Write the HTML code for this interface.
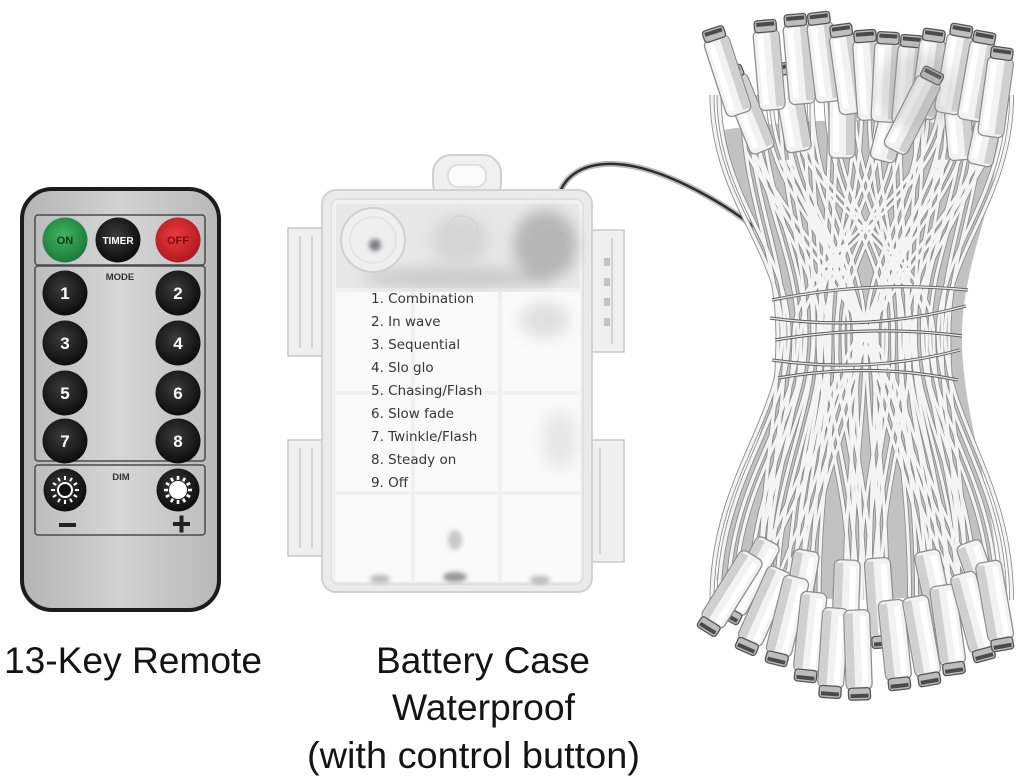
<!DOCTYPE html>
<html><head><meta charset="utf-8"><style>
html,body{margin:0;padding:0;background:#fff;}
svg{display:block;}
</style></head><body>
<svg width="1024" height="782" viewBox="0 0 1024 782" xmlns="http://www.w3.org/2000/svg">
<defs>
<linearGradient id="rg" x1="0" y1="0" x2="1" y2="0"><stop offset="0" stop-color="#b4b4b4"/><stop offset="0.5" stop-color="#d2d2d2"/><stop offset="1" stop-color="#b8b8b8"/></linearGradient>
<linearGradient id="pg" x1="0" y1="0" x2="1" y2="0"><stop offset="0" stop-color="#bdbdbd"/><stop offset="0.5" stop-color="#d6d6d6"/><stop offset="1" stop-color="#c0c0c0"/></linearGradient>
<radialGradient id="bk" cx="0.45" cy="0.4" r="0.6"><stop offset="0" stop-color="#3c3c3c"/><stop offset="1" stop-color="#0c0c0c"/></radialGradient>
<radialGradient id="gr" cx="0.45" cy="0.4" r="0.6"><stop offset="0" stop-color="#3fb562"/><stop offset="1" stop-color="#1c7a3a"/></radialGradient>
<radialGradient id="rd" cx="0.45" cy="0.4" r="0.6"><stop offset="0" stop-color="#ec3a3e"/><stop offset="1" stop-color="#b01a1f"/></radialGradient>
<filter id="bl" x="-50%" y="-50%" width="200%" height="200%"><feGaussianBlur stdDeviation="7"/></filter>
<filter id="bl2" x="-50%" y="-50%" width="200%" height="200%"><feGaussianBlur stdDeviation="2.5"/></filter>
<path id="rays" d="M0,-10V-14M5,-8.7L7,-12.1M8.7,-5L12.1,-7M10,0H14M8.7,5L12.1,7M5,8.7L7,12.1M0,10V14M-5,8.7L-7,12.1M-8.7,5L-12.1,7M-10,0H-14M-8.7,-5L-12.1,-7M-5,-8.7L-7,-12.1"/>
<g id="led">
<rect x="-13" y="-38" width="26" height="80" rx="6" fill="#f2f2f2" stroke="#8e8e8e" stroke-width="1.3"/>
<rect x="4" y="-35" width="8" height="74" fill="#d0d0d0"/>
<rect x="-9" y="-34" width="6" height="70" fill="#fff"/>
<rect x="-11" y="-48" width="22" height="12" rx="3" fill="#bdbdbd" stroke="#555" stroke-width="1.3"/>
<rect x="-9" y="-46" width="18" height="4" fill="#4a4a4a"/>
</g>
<path id="w" d="M712,95C712,200 782,250 782,335C782,420 712,480 712,600M742,95C742,200 778,250 778,335C778,420 760,480 760,600M755,95C755,200 798,250 798,335C798,420 728,480 728,600M780,95C780,200 806,250 806,335C806,420 750,480 750,600M805,95C805,200 814,250 814,335C814,420 770,480 770,600M830,95C830,200 822,250 822,335C822,420 795,480 795,600M855,95C855,200 830,250 830,335C830,420 812,480 812,600M878,95C878,200 818,250 818,335C818,420 850,480 850,600M900,95C900,200 836,250 836,335C836,420 865,480 865,600M922,95C922,200 866,250 866,335C866,420 880,480 880,600M944,95C944,200 876,250 876,335C876,420 870,480 870,600M965,95C965,200 870,250 870,335C870,420 925,480 925,600M985,95C985,200 906,250 906,335C906,420 940,480 940,600M940,95C940,200 794,250 794,335C794,420 760,480 760,600M985,150C930,250 860,300 820,420C800,480 780,520 745,590M780,160C830,250 860,320 900,440C915,500 935,540 960,600"/>
<g id="allw">
<use href="#w"/>
<use href="#w" transform="translate(7,0)"/>
<use href="#w" transform="matrix(-0.95,0,0,1,1688,0)"/>
<use href="#w" transform="matrix(-0.95,0,0,1,1681,0)"/>
</g>
<path id="ties" d="M772,300Q870,280 968,290M770,318Q870,332 966,306M775,340Q870,324 962,336M772,360Q870,374 960,350M778,378Q870,362 958,380"/>
<path id="cable" d="M560,192C568,172 588,163 615,164C660,166 720,200 758,230"/>
</defs>

<!-- REMOTE -->
<rect x="22" y="189" width="197" height="421" rx="30" fill="url(#rg)" stroke="#1c1c1c" stroke-width="4"/>
<rect x="35" y="215" width="170" height="50" rx="3" fill="url(#pg)" stroke="#4a4a4a" stroke-width="1.5"/>
<rect x="35" y="266" width="170" height="195" rx="3" fill="url(#pg)" stroke="#4a4a4a" stroke-width="1.5"/>
<rect x="35" y="465" width="170" height="70" rx="3" fill="url(#pg)" stroke="#4a4a4a" stroke-width="1.5"/>
<circle cx="65" cy="240" r="22.5" fill="url(#gr)"/>
<circle cx="118" cy="240" r="22.5" fill="url(#bk)"/>
<circle cx="178" cy="240" r="22.5" fill="url(#rd)"/>
<g font-family="Liberation Sans, sans-serif" font-weight="bold" text-anchor="middle">
<text x="65" y="244" font-size="11" fill="#0c3a1a">ON</text>
<text x="118" y="244" font-size="10" fill="#fff">TIMER</text>
<text x="178" y="244" font-size="11" fill="#7a0c10">OFF</text>
<text x="120" y="280" font-size="9.5" fill="#333">MODE</text>
<text x="121" y="480" font-size="9.5" fill="#333">DIM</text>
</g>
<g fill="url(#bk)">
<circle cx="65" cy="293" r="22.5"/><circle cx="178" cy="293" r="22.5"/>
<circle cx="65" cy="343" r="22.5"/><circle cx="178" cy="343" r="22.5"/>
<circle cx="65" cy="393" r="22.5"/><circle cx="178" cy="393" r="22.5"/>
<circle cx="65" cy="441" r="22.5"/><circle cx="178" cy="441" r="22.5"/>
<circle cx="65" cy="490" r="21.5"/><circle cx="178" cy="490" r="21.5"/>
</g>
<g font-family="Liberation Sans, sans-serif" font-weight="bold" font-size="17" fill="#fff" text-anchor="middle">
<text x="65" y="299">1</text><text x="178" y="299">2</text>
<text x="65" y="349">3</text><text x="178" y="349">4</text>
<text x="65" y="399">5</text><text x="178" y="399">6</text>
<text x="65" y="447">7</text><text x="178" y="447">8</text>
</g>
<g transform="translate(65,490)"><circle r="7" fill="#111" stroke="#fff" stroke-width="2"/><use href="#rays" stroke="#fff" stroke-width="2"/></g>
<g transform="translate(178,490)"><circle r="9" fill="#fff"/><use href="#rays" stroke="#fff" stroke-width="2.6"/></g>
<rect x="59" y="523" width="17" height="4" fill="#222"/>
<rect x="173" y="522" width="17" height="4" fill="#222"/>
<rect x="179.5" y="515.5" width="4" height="17" fill="#222"/>

<!-- BATTERY CASE -->
<use href="#cable" fill="none" stroke="#bbb" stroke-width="6"/>
<use href="#cable" fill="none" stroke="#2e2e2e" stroke-width="2.5"/>
<path d="M288,228h38v128h-38zM288,440h38v116h-38zM586,230h38v122h-38zM586,440h38v122h-38z" fill="#efefef" stroke="#c9c9c9" stroke-width="1.5"/>
<path d="M300,236V348M312,236V348M300,448V548M312,448V548M612,238V344M600,448V554" stroke="#d2d2d2" stroke-width="2"/>
<path d="M604,258h6v8h-6zM604,278h6v8h-6zM604,298h6v8h-6zM604,318h6v8h-6z" fill="#c4c4c4"/>
<rect x="433" y="155" width="68" height="46" rx="18" fill="#f0f0f0" stroke="#cfcfcf" stroke-width="2"/>
<rect x="448" y="165" width="38" height="22" rx="10" fill="#fbfbfb" stroke="#d8d8d8" stroke-width="1.5"/>
<rect x="322" y="190" width="270" height="402" rx="14" fill="#ebebeb" stroke="#d2d2d2" stroke-width="2"/>
<rect x="331" y="199" width="252" height="385" rx="8" fill="#f1f1f1" stroke="#dedede" stroke-width="1.5"/>
<rect x="336" y="204" width="243" height="84" fill="#e8e8e8"/>
<ellipse cx="455" cy="278" rx="95" ry="11" fill="#a8a8a8" opacity="0.45" filter="url(#bl)"/>
<ellipse cx="545" cy="245" rx="32" ry="35" fill="#8e8e8e" opacity="0.55" filter="url(#bl)"/>
<ellipse cx="460" cy="240" rx="30" ry="25" fill="#c4c4c4" opacity="0.5" filter="url(#bl)"/>
<circle cx="373" cy="240" r="32" fill="#efefef" stroke="#d0d0d0" stroke-width="2"/>
<circle cx="373" cy="240" r="23" fill="none" stroke="#e2e2e2" stroke-width="1.5"/>
<circle cx="375" cy="245" r="6" fill="#7c7c84" filter="url(#bl2)"/>
<circle cx="462" cy="232" r="16" fill="none" stroke="#d4d4d4" stroke-width="1.5"/>
<path d="M336,292h75v99h-75zM415,292h83v99h-83zM502,292h78v99h-78zM336,395h75v96h-75zM415,395h83v96h-83zM502,395h78v96h-78zM336,495h75v86h-75zM415,495h83v86h-83zM502,495h78v86h-78z" fill="#fafafa"/>
<ellipse cx="545" cy="320" rx="25" ry="18" fill="#cfcfcf" opacity="0.6" filter="url(#bl)"/>
<ellipse cx="560" cy="440" rx="18" ry="30" fill="#dcdcdc" opacity="0.6" filter="url(#bl)"/>
<ellipse cx="455" cy="577" rx="12" ry="5" fill="#555" opacity="0.6" filter="url(#bl2)"/>
<ellipse cx="380" cy="579" rx="10" ry="4" fill="#777" opacity="0.5" filter="url(#bl2)"/>
<ellipse cx="540" cy="580" rx="10" ry="4" fill="#777" opacity="0.5" filter="url(#bl2)"/>
<ellipse cx="455" cy="540" rx="7" ry="10" fill="#999" opacity="0.5" filter="url(#bl2)"/>
<g font-family="DejaVu Sans, Liberation Sans, sans-serif" font-size="13.5" fill="#363636">
<text x="371" y="303">1. Combination</text>
<text x="371" y="326">2. In wave</text>
<text x="371" y="349">3. Sequential</text>
<text x="371" y="372">4. Slo glo</text>
<text x="371" y="395">5. Chasing/Flash</text>
<text x="371" y="418">6. Slow fade</text>
<text x="371" y="441">7. Twinkle/Flash</text>
<text x="371" y="464">8. Steady on</text>
<text x="371" y="487">9. Off</text>
</g>

<!-- LED BUNDLE -->
<path d="M722,130Q860,110 1000,130C995,210 965,255 962,330C960,410 992,480 998,580Q860,620 716,580C738,480 778,410 778,330C778,255 735,210 722,130Z" fill="#c2c2c2"/>
<use href="#allw" fill="none" stroke="#8c8c8c" stroke-width="5"/>
<use href="#allw" fill="none" stroke="#f4f4f4" stroke-width="3.2"/>
<use href="#led" transform="translate(748,112) rotate(-22)"/>
<use href="#led" transform="translate(792,110) rotate(-10)"/>
<use href="#led" transform="translate(842,116)"/>
<use href="#led" transform="translate(892,120) rotate(14)"/>
<use href="#led" transform="translate(958,118) rotate(-5)"/>
<use href="#led" transform="translate(988,124) rotate(12)"/>
<use href="#led" transform="translate(727,74) rotate(-18)"/>
<use href="#led" transform="translate(769,68) rotate(-5)"/>
<use href="#led" transform="translate(799,62) rotate(-5)"/>
<use href="#led" transform="translate(824,60) rotate(-7)"/>
<use href="#led" transform="translate(847,72) rotate(-8)"/>
<use href="#led" transform="translate(868,78) rotate(-4)"/>
<use href="#led" transform="translate(886,80) rotate(3)"/>
<use href="#led" transform="translate(908,83) rotate(5)"/>
<use href="#led" transform="translate(928,77) rotate(8)"/>
<use href="#led" transform="translate(954,72) rotate(10)"/>
<use href="#led" transform="translate(977,79) rotate(10)"/>
<use href="#led" transform="translate(996,95) rotate(8)"/>
<use href="#led" transform="translate(913,113) rotate(27)"/>
<ellipse cx="915" cy="90" rx="40" ry="40" fill="#9a9a9a" opacity="0.25" filter="url(#bl)"/>
<use href="#ties" fill="none" stroke="#5e5e5e" stroke-width="3.2"/>
<use href="#ties" fill="none" stroke="#e9e9e9" stroke-width="1.3"/>
<use href="#led" transform="translate(750,578) rotate(208)"/>
<use href="#led" transform="translate(800,592) rotate(190)"/>
<use href="#led" transform="translate(846,602) rotate(182)"/>
<use href="#led" transform="translate(880,600) rotate(176)"/>
<use href="#led" transform="translate(935,592) rotate(168)"/>
<use href="#led" transform="translate(982,582) rotate(160)"/>
<use href="#led" transform="translate(731,591) rotate(212)"/>
<use href="#led" transform="translate(764,608) rotate(204)"/>
<use href="#led" transform="translate(787,618) rotate(194)"/>
<use href="#led" transform="translate(810,634) rotate(186)"/>
<use href="#led" transform="translate(833,650) rotate(184)"/>
<use href="#led" transform="translate(858,652) rotate(178)"/>
<use href="#led" transform="translate(895,642) rotate(174)"/>
<use href="#led" transform="translate(922,638) rotate(170)"/>
<use href="#led" transform="translate(948,627) rotate(172)"/>
<use href="#led" transform="translate(973,614) rotate(165)"/>
<use href="#led" transform="translate(995,603) rotate(170)"/>

<!-- LABELS -->
<g font-family="Liberation Sans, Arial, sans-serif" font-size="37" fill="#141414">
<text x="4" y="673" textLength="258" lengthAdjust="spacingAndGlyphs">13-Key Remote</text>
<text x="376" y="673" textLength="214" lengthAdjust="spacingAndGlyphs">Battery Case</text>
<text x="392" y="720" textLength="183" lengthAdjust="spacingAndGlyphs">Waterproof</text>
<text x="307" y="768" textLength="333" lengthAdjust="spacingAndGlyphs">(with control button)</text>
</g>
</svg>
</body></html>
